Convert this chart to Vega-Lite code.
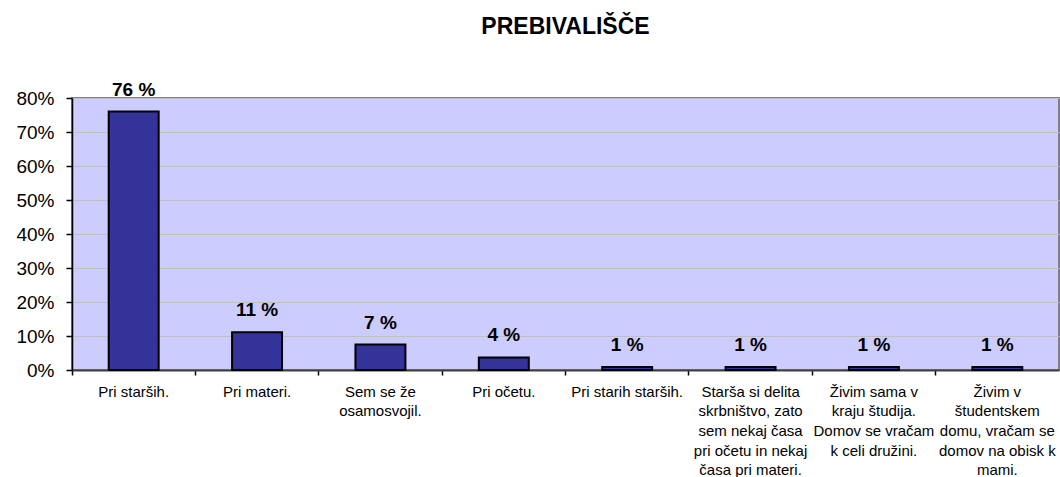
{
  "$schema": "https://vega.github.io/schema/vega-lite/v6.json",
  "autosize": "none",
  "width": 987,
  "height": 272,
  "padding": {"left": 72, "top": 98, "right": 1, "bottom": 107},
  "background": "white",
  "title": {
    "text": "PREBIVALIŠČE",
    "font": "Liberation Sans",
    "fontSize": 23,
    "fontWeight": "bold",
    "color": "#000000",
    "anchor": "middle",
    "frame": "group",
    "baseline": "alphabetic",
    "offset": 24
  },
  "config": {
    "view": {"fill": "#ccccff", "stroke": "#808080", "strokeWidth": 2},
    "font": "Liberation Sans"
  },
  "data": {
    "values": [
      {"kategorija": "Pri starših.", "delez": 0.76, "oznaka": "76 %"},
      {"kategorija": "Pri materi.", "delez": 0.111, "oznaka": "11 %"},
      {"kategorija": "Sem se že|osamosvojil.", "delez": 0.075, "oznaka": "7 %"},
      {"kategorija": "Pri očetu.", "delez": 0.037, "oznaka": "4 %"},
      {"kategorija": "Pri starih starših.", "delez": 0.009, "oznaka": "1 %"},
      {"kategorija": "Starša si delita|skrbništvo, zato|sem nekaj časa|pri očetu in nekaj|časa pri materi.", "delez": 0.009, "oznaka": "1 %"},
      {"kategorija": "Živim sama v|kraju študija.|Domov se vračam|k celi družini.", "delez": 0.009, "oznaka": "1 %"},
      {"kategorija": "Živim v|študentskem|domu, vračam se|domov na obisk k|mami.", "delez": 0.009, "oznaka": "1 %"}
    ]
  },
  "encoding": {
    "x": {
      "field": "kategorija",
      "type": "nominal",
      "sort": null,
      "scale": {"paddingInner": 0, "paddingOuter": 0},
      "axis": {
        "title": null,
        "labelAngle": 0,
        "labelExpr": "split(datum.label, '|')",
        "labelFont": "Liberation Sans",
        "labelFontSize": 15,
        "labelLineHeight": 19.7,
        "labelColor": "#000000",
        "labelLimit": 200,
        "labelBaseline": "top",
        "labelPadding": 9,
        "bandPosition": 0,
        "tickColor": "#000000",
        "tickSize": 5,
        "tickWidth": 1.5,
        "domainColor": "#404040",
        "domainWidth": 2,
        "grid": false
      }
    },
    "y": {
      "field": "delez",
      "type": "quantitative",
      "scale": {"domain": [0, 0.8]},
      "axis": {
        "title": null,
        "format": ".0%",
        "values": [0, 0.1, 0.2, 0.3, 0.4, 0.5, 0.6, 0.7, 0.8],
        "labelFont": "Liberation Sans",
        "labelFontSize": 19,
        "labelColor": "#000000",
        "labelPadding": 12,
        "tickSize": 6,
        "tickColor": "#000000",
        "tickWidth": 1.5,
        "domainColor": "#000000",
        "domainWidth": 1.5,
        "gridColor": "#c0c0c0",
        "gridWidth": 1
      }
    }
  },
  "layer": [
    {
      "mark": {"type": "bar", "width": {"band": 0.405}, "fill": "#333399", "stroke": "#000000", "strokeWidth": 2}
    },
    {
      "mark": {"type": "text", "font": "Liberation Sans", "fontSize": 19, "fontWeight": "bold", "color": "#000000", "baseline": "alphabetic", "dy": -16},
      "encoding": {"text": {"field": "oznaka"}}
    }
  ]
}
